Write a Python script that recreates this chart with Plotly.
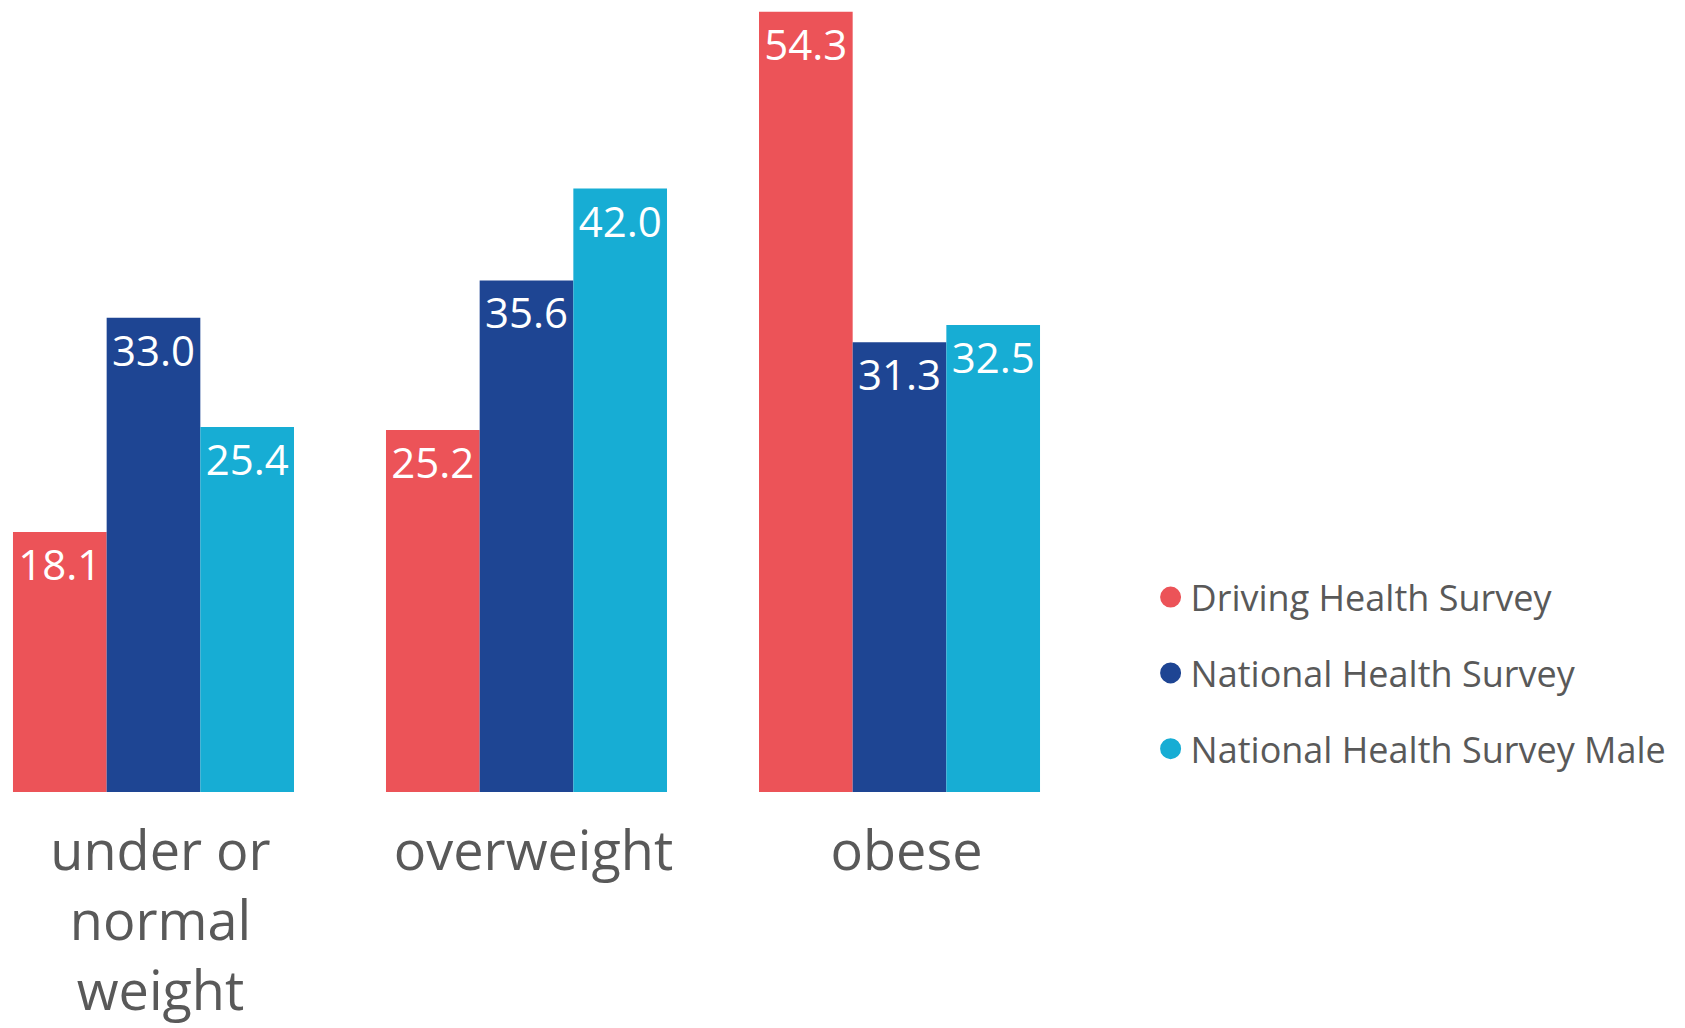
import plotly.graph_objects as go

categories = ["under or<br>normal<br>weight", "overweight", "obese"]
series_names = ["Driving Health Survey", "National Health Survey", "National Health Survey Male"]
driving = [18.1, 25.2, 54.3]
national = [33.0, 35.6, 31.3]
national_male = [25.4, 42.0, 32.5]
colors = ["#EC5358", "#1E4593", "#17ADD4"]

values = [driving, national, national_male]

fig = go.Figure()
for name, vals, col in zip(series_names, values, colors):
    fig.add_trace(go.Bar(
        x=categories, y=vals, name=name, marker=dict(color=col, line=dict(width=0)),
        text=[f"{v:.1f}" for v in vals], textposition="inside", insidetextanchor="end",
        textfont=dict(color="white", size=42, family="Open Sans"),
        showlegend=False, hoverinfo="skip", cliponaxis=False,
    ))
for i, (name, col) in enumerate(zip(series_names, colors)):
    fig.add_trace(go.Scatter(
        x=[None], y=[None], mode="markers", name=name, legendgroup=f"g{i}",
        marker=dict(symbol="circle", size=16, color=col, line=dict(color=col, width=5)),
    ))

fig.update_layout(
    width=1685, height=1028,
    margin=dict(l=0, r=585, t=0, b=236),
    paper_bgcolor="white", plot_bgcolor="white",
    barmode="group", bargap=0.2466, bargroupgap=0,
    font=dict(family="Open Sans", color="#595959"),
    xaxis=dict(range=[-0.4115, 2.5375], showgrid=False, zeroline=False, showline=False,
               ticks="", tickfont=dict(size=54, color="#595959"), ticklabelstandoff=23,
               ticklabelshift=7, fixedrange=True),
    yaxis=dict(range=[0, 55.12], visible=False, fixedrange=True),
    legend=dict(x=1.046, xanchor="left", y=0.15, yanchor="middle",
                font=dict(size=36, color="#595959"), tracegroupgap=26,
                bgcolor="rgba(0,0,0,0)"),
)

fig.write_html("out.html")
